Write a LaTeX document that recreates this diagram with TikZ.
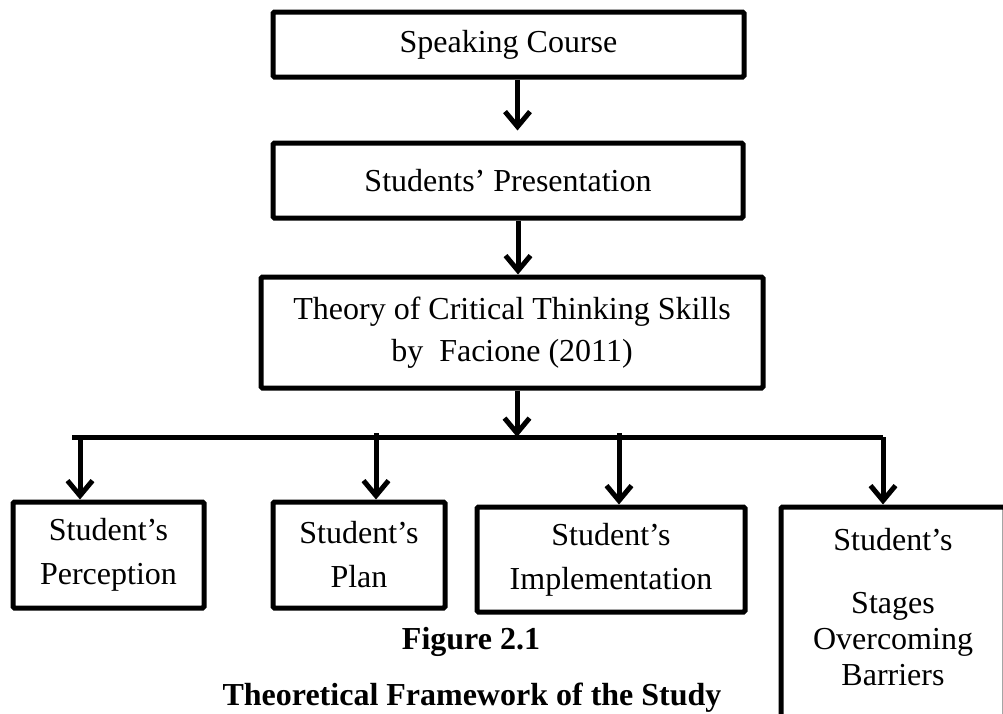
\documentclass[tikz,border=0pt]{standalone}
\usepackage{fontspec}
\setmainfont{Liberation Serif}
\usetikzlibrary{arrows.meta}
\begin{document}
\begin{tikzpicture}[x=1pt,y=-1pt,
  box/.style={draw=black, line width=5pt, rounded corners=1.5pt, inner sep=0pt,
    align=center, font=\fontsize{32}{42}\selectfont},
  conn/.style={line width=5pt, black},
  arr/.style={conn, -{Straight Barb[length=15pt,width=25pt]}},
  txt/.style={inner sep=0pt, align=center, font=\fontsize{32}{36}\selectfont},
  captxt/.style={inner sep=0pt, font=\fontsize{32}{36}\selectfont\bfseries}]
  \useasboundingbox[fill=white] (0,0) rectangle (1003,713);

  % main chain
  \node[box, minimum width=471pt, minimum height=65pt] (sc) at (508.5,44.5) {Speaking Course};
  \node[box, minimum width=470pt, minimum height=75pt] (sp) at (508,180.5) {Students’ Presentation};
  \node[box, minimum width=502pt, minimum height=111pt] (th) at (512,332.5)
    {Theory of Critical Thinking Skills\\by~~Facione (2011)};

  % lower row
  \node[box, minimum width=191pt, minimum height=106pt] (per) at (108.5,555) {Student’s\\[2pt]Perception};
  \node[box, minimum width=172pt, minimum height=106pt] (plan) at (359,555) {Student’s\\[2pt]Plan};
  \node[box, minimum width=268pt, minimum height=105pt] (impl) at (611,559.5) {Student’s\\[2pt]Implementation};
  \node[box, minimum width=224pt, minimum height=260pt] (bar) at (893,637) {};
  \node[txt, anchor=north] (bartxt) at (893,528) {Student’s\\[27pt]Stages\\Overcoming\\Barriers};

  % caption
  \node[captxt] (fig) at (471,642) {Figure 2.1};
  \node[captxt, anchor=base] (title) at (472,705) {Theoretical Framework of the Study};

  % distribution bar and drop points
  \coordinate (busL) at (72,437);
  \coordinate (busR) at (883,437);
  \coordinate (d1) at (80,437);
  \coordinate (d2) at (376,433);
  \coordinate (d3) at (619,433);
  \coordinate (a1) at ([xshift=9pt]sc.south);
  \coordinate (a2) at ([xshift=10pt]sp.south);
  \coordinate (a3) at ([xshift=5pt]th.south);

  % connectors
  \draw[arr] (a1) -- ([yshift=10pt]a1 |- sp.north);
  \draw[arr] (a2) -- (a2 |- th.north);
  \draw[arr] (a3) -- (a3 |- busL);
  \draw[conn] (busL) -- (busR);
  \draw[arr] (busR) -- (busR |- bar.north);
  \draw[arr] (d1) -- (d1 |- per.north);
  \draw[arr] (d2) -- (d2 |- plan.north);
  \draw[arr] (d3) -- (d3 |- impl.north);
\end{tikzpicture}
\end{document}
